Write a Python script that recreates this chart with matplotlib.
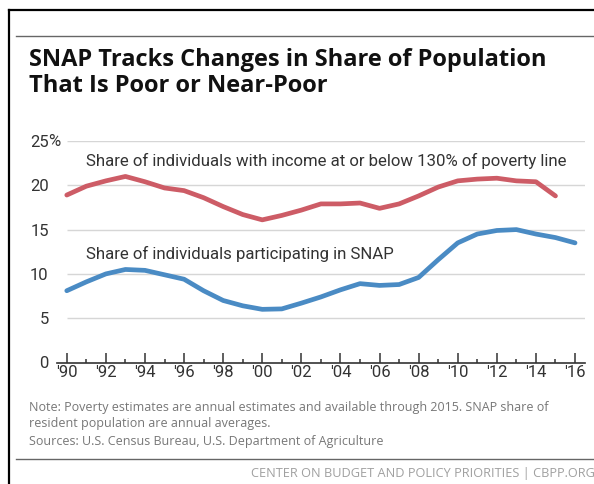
import matplotlib.pyplot as plt
from matplotlib.lines import Line2D

W, H = 594, 484

years = list(range(1990, 2017))
poor = [18.9, 19.9, 20.5, 21.0, 20.4, 19.7, 19.4, 18.6, 17.6, 16.7, 16.1, 16.6, 17.2,
        17.9, 17.9, 18.0, 17.4, 17.9, 18.8, 19.8, 20.5, 20.7, 20.8, 20.5, 20.4, 18.8]
snap = [8.1, 9.1, 10.0, 10.5, 10.4, 9.9, 9.4, 8.1, 7.0, 6.4, 6.0, 6.05, 6.7, 7.4,
        8.2, 8.9, 8.7, 8.8, 9.6, 11.6, 13.5, 14.5, 14.9, 15.0, 14.5, 14.1, 13.5]
yticks = [0, 5, 10, 15, 20, 25]
xticks = list(range(1990, 2017, 2))
xlabels = ["'" + str(y)[2:] for y in xticks]

narrow = ['Roboto', 'DejaVu Sans']
body = ['Open Sans', 'DejaVu Sans']
dark = '#333333'

fig = plt.figure(figsize=(W / 100, H / 100), dpi=100)


def px(x, y):
    return x / W, 1 - y / H


ax = fig.add_axes([57 / W, (H - 362.5) / H, (584.8 - 57) / W, (362.5 - 141) / H])
ax.set_xlim(1989.5, 2016.5)
ax.set_ylim(0, 25)

ax.hlines(yticks[1:], 1990, 2016.5, color='#d6d6d6', lw=1, zorder=1)
ax.plot(years[:len(poor)], poor, color='#cd5c66', lw=3.4, solid_capstyle='round',
        solid_joinstyle='round', zorder=3, clip_on=False)
ax.plot(years, snap, color='#4a8bc4', lw=3.4, solid_capstyle='round',
        solid_joinstyle='round', zorder=3, clip_on=False)

ax.text(1991.0, 22.7, 'Share of individuals with income at or below 130% of poverty line',
        family=narrow, fontsize=12.1, color=dark, va='center', ha='left')
ax.text(1991.0, 12.3, 'Share of individuals participating in SNAP',
        family=narrow, fontsize=12.1, color=dark, va='center', ha='left')

for s in ['top', 'right', 'left']:
    ax.spines[s].set_visible(False)
ax.spines['bottom'].set_color(dark)
ax.spines['bottom'].set_linewidth(1.2)

ax.set_xticks(xticks)
ax.set_xticklabels(xlabels, family=narrow, fontsize=12, color=dark)
ax.set_xticks(range(1991, 2016, 2), minor=True)
ax.tick_params(axis='x', which='major', direction='in', length=7, width=1.1, color=dark, pad=2)
ax.tick_params(axis='x', which='minor', direction='in', length=3, width=1.1, color=dark)
ax.set_yticks(yticks)
ax.set_yticklabels([str(v) for v in yticks], family=narrow, fontsize=12, color=dark)
ax.tick_params(axis='y', length=0, pad=6)
fig.text(*px(48, 141), '%', family=narrow, fontsize=12, color=dark, ha='left', va='center')

# frame and rules
fig.add_artist(Line2D([9 / W, 1.0], [1 - 10 / H] * 2, color='black', lw=1.6))
fig.add_artist(Line2D([9 / W] * 2, [1 - 10 / H, 0], color='black', lw=1.6))
fig.add_artist(Line2D([16 / W, 1.0], [1 - 36 / H] * 2, color='#666666', lw=1))
fig.add_artist(Line2D([16 / W, 1.0], [1 - 459 / H] * 2, color='#666666', lw=1))

fig.text(*px(29, 60), 'SNAP Tracks Changes in Share of Population', family=body,
         fontweight='bold', fontsize=17, color='#111111', va='center', ha='left')
fig.text(*px(29, 86), 'That Is Poor or Near-Poor', family=body,
         fontweight='bold', fontsize=17, color='#111111', va='center', ha='left')

fig.text(*px(29, 407), 'Note: Poverty estimates are annual estimates and available through 2015. SNAP share of',
         family=body, fontsize=9.0, color='#777777', va='center', ha='left')
fig.text(*px(29, 423), 'resident population are annual averages.',
         family=body, fontsize=9.0, color='#777777', va='center', ha='left')
fig.text(*px(29, 442), 'Sources: U.S. Census Bureau, U.S. Department of Agriculture',
         family=body, fontsize=9.0, color='#777777', va='center', ha='left')
fig.text(*px(595, 473), 'CENTER ON BUDGET AND POLICY PRIORITIES | CBPP.ORG',
         family=body, fontsize=9.2, color='#a0a0a0', va='center', ha='right')

fig.savefig('out.png', dpi=100)
